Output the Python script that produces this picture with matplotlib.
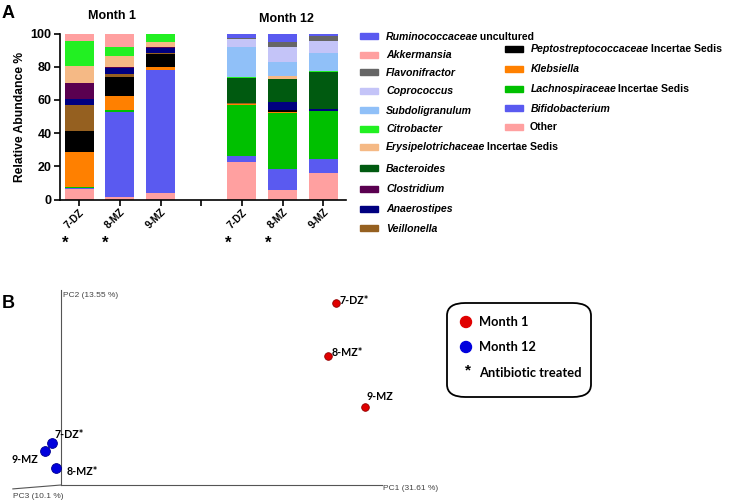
import numpy as np
import matplotlib
matplotlib.use("Agg")
import matplotlib.pyplot as plt
from matplotlib.patches import Rectangle, FancyBboxPatch, Ellipse

plt.rcParams['font.family'] = ['Liberation Sans', 'DejaVu Sans']

W, H = 732, 501

# ---- panel A data: relative abundance (%), stacked bottom -> top ----
samples = ["7-DZ", "8-MZ", "9-MZ", "7-DZ", "8-MZ", "9-MZ"]
positions = [0, 1, 2, 4, 5, 6]
treated = [True, True, False, True, True, False]

other = [6.5, 1.6, 4.2, 22.4, 5.9, 16.0]
bifidobacterium = [0.6, 51.2, 73.7, 3.6, 12.7, 8.6]
lachnospiraceae = [0.6, 1.4, 0.3, 31.0, 33.5, 28.9]
klebsiella = [21.0, 8.0, 1.5, 0.3, 0.7, 0.0]
peptostrep = [12.7, 11.7, 8.0, 0.0, 1.2, 0.0]
veillonella = [15.4, 2.0, 0.5, 0.6, 0.0, 0.0]
anaerostipes = [4.0, 3.4, 3.0, 0.0, 5.0, 0.8]
clostridium = [9.5, 0.5, 0.5, 0.0, 0.0, 0.0]
bacteroides = [0.0, 0.0, 0.0, 15.0, 13.7, 22.3]
erysipelotrichaceae = [10.0, 6.5, 3.0, 0.0, 1.4, 0.0]
citrobacter = [15.0, 5.3, 5.3, 0.8, 0.0, 0.8]
subdoligranulum = [0.0, 0.0, 0.0, 18.2, 8.6, 11.0]
coprococcus = [0.0, 0.0, 0.0, 4.8, 9.0, 6.8]
flavonifractor = [0.0, 0.0, 0.0, 0.5, 3.0, 3.2]
akkermansia = [4.7, 8.4, 0.0, 0.0, 0.0, 0.0]
ruminococcaceae = [0.0, 0.0, 0.0, 2.8, 5.3, 1.6]

# (values, colour) in stacking order
stack = [
    (other, "#ffa0a0"),
    (bifidobacterium, "#5a5af0"),
    (lachnospiraceae, "#00c000"),
    (klebsiella, "#ff8000"),
    (peptostrep, "#000000"),
    (veillonella, "#956020"),
    (anaerostipes, "#000080"),
    (clostridium, "#5a0050"),
    (bacteroides, "#005a10"),
    (erysipelotrichaceae, "#f5b985"),
    (citrobacter, "#22f022"),
    (subdoligranulum, "#90c0f8"),
    (coprococcus, "#c4c4f8"),
    (flavonifractor, "#666666"),
    (akkermansia, "#ffa0a0"),
    (ruminococcaceae, "#5a5af0"),
]

# legend entries: (italic part, plain part, colour)
legend_col1 = [
    ("Ruminococcaceae", " uncultured", "#5a5af0"),
    ("Akkermansia", "", "#ffa0a0"),
    ("Flavonifractor", "", "#666666"),
    ("Coprococcus", "", "#c4c4f8"),
    ("Subdoligranulum", "", "#90c0f8"),
    ("Citrobacter", "", "#22f022"),
    ("Erysipelotrichaceae", " Incertae Sedis", "#f5b985"),
    ("Bacteroides", "", "#005a10"),
    ("Clostridium", "", "#5a0050"),
    ("Anaerostipes", "", "#000080"),
    ("Veillonella", "", "#956020"),
]
legend_col2 = [
    ("Peptostreptococcaceae", " Incertae Sedis", "#000000"),
    ("Klebsiella", "", "#ff8000"),
    ("Lachnospiraceae", " Incertae Sedis", "#00c000"),
    ("Bifidobacterium", "", "#5a5af0"),
    ("", "Other", "#ffa0a0"),
]

# ---- panel B data: PCoA positions projected on the PC1/PC2 plane ----
pc_labels = ["7-DZ*", "8-MZ*", "9-MZ"]
m1_x = [0.856, 0.831, 0.946]
m1_y = [0.933, 0.662, 0.402]
m12_x = [-0.027, -0.017, -0.051]
m12_y = [0.217, 0.089, 0.174]


def fx(px):
    return px / W


def fy(py):
    return 1 - py / H


fig = plt.figure(figsize=(W / 100, H / 100), dpi=100)

# ================= panel A =================
x_left = -0.47
x_right = 6.55
ax = fig.add_axes([fx(60), fy(199.5), (x_right - x_left) * 40.7 / W, 166 / H])
bottom = np.zeros(len(samples))
for vals, col in stack:
    vals = np.array(vals)
    ax.bar(positions, vals, width=0.71, bottom=bottom, color=col, linewidth=0)
    bottom += vals

ax.set_xlim(x_left, x_right)
ax.set_ylim(0, 100)
ax.spines['top'].set_visible(False)
ax.spines['right'].set_visible(False)
for s in ['left', 'bottom']:
    ax.spines[s].set_linewidth(1.2)
ax.set_yticks([0, 20, 40, 60, 80, 100])
ax.set_xticks([0, 1, 2, 3, 4, 5, 6])
ax.set_xticklabels(samples[:3] + [""] + samples[3:], rotation=45, ha='right',
                   rotation_mode='anchor', fontsize=7.3, fontweight='bold')
ax.tick_params(axis='y', labelsize=9, width=1.2, length=4, pad=2)
ax.tick_params(axis='x', width=1.2, length=4, pad=1.5)
for lab in ax.get_yticklabels():
    lab.set_fontweight('bold')
ax.set_ylabel("Relative Abundance %", fontsize=8.7, fontweight='bold', labelpad=3)

trans = ax.get_xaxis_transform()
for p, t in zip(positions, treated):
    if t:
        ax.text(p - 0.35, -0.265, "*", transform=trans, ha='center', va='center',
                fontsize=12, fontweight='bold')
ax.text(0.81, 1.105, "Month 1", transform=trans, ha='center', va='center',
        fontsize=9, fontweight='bold')
ax.text(5.1, 1.09, "Month 12", transform=trans, ha='center', va='center',
        fontsize=9, fontweight='bold')

fig.text(fx(2), fy(13), "A", fontsize=13, fontweight='bold', va='center')


def legend_column(entries, x0, ys):
    for (ital, plain, col), y in zip(entries, ys):
        fig.patches.append(Rectangle((fx(x0), fy(y + 3)), 18 / W, 6 / H,
                                     transform=fig.transFigure, color=col, figure=fig))
        t = fig.text(fx(x0 + 26), fy(y + 3.5), ital, fontsize=7.6, fontweight='bold',
                     style='italic', va='baseline', ha='left')
        if plain:
            ax.annotate(plain, xy=(1, fy(y + 3.5)), xycoords=(t, 'figure fraction'),
                        xytext=(-1.5, 0), textcoords='offset pixels',
                        fontsize=7.6, fontweight='bold', va='baseline', ha='left',
                        annotation_clip=False)


legend_column(legend_col1, 360, [36, 55, 72, 91, 110, 129, 147, 168, 189, 209, 228])
legend_column(legend_col2, 505, [49, 69, 89, 108, 127])

# ================= panel B =================
axb = fig.add_axes([fx(61), fy(485), (382 - 61) / W, (485 - 290) / H])
axb.set_xlim(0, 1)
axb.set_ylim(0, 1)
axb.axis('off')
line_kw = dict(color='#555555', lw=0.8, clip_on=False)
axb.plot([0, 1], [0, 0], **line_kw)
axb.plot([0, 0], [0, 1], **line_kw)
axb.plot([0, -0.15], [0, -0.02], **line_kw)
axis_kw = dict(fontsize=6, color='#444444', clip_on=False)
axb.text(0.005, 0.97, "PC2 (13.55 %)", va='center', ha='left', **axis_kw)
axb.text(1.003, -0.02, "PC1 (31.61 %)", va='center', ha='left', **axis_kw)
axb.text(-0.15, -0.06, "PC3 (10.1 %)", va='center', ha='left', **axis_kw)

axb.scatter(m1_x, m1_y, s=30, color='#e00000', edgecolor='#900000', lw=0.6,
            clip_on=False, zorder=3)
axb.scatter(m12_x, m12_y, s=50, color='#0000dd', edgecolor='#000090', lw=0.6,
            clip_on=False, zorder=3)

lab_kw = dict(fontsize=7.7, fontweight='bold', family=['Lato', 'DejaVu Sans'],
              textcoords='offset pixels', annotation_clip=False)
m1_off = [(4, 3, 'left'), (4, 3, 'left'), (2, 10, 'left')]
m12_off = [(2, 8, 'left'), (11, -4, 'left'), (-6, -8, 'right')]
for lab, x, y, (dx, dy, ha) in zip(pc_labels, m1_x, m1_y, m1_off):
    axb.annotate(lab, (x, y), xytext=(dx, dy), ha=ha, va='center', **lab_kw)
for lab, x, y, (dx, dy, ha) in zip(pc_labels, m12_x, m12_y, m12_off):
    axb.annotate(lab, (x, y), xytext=(dx, dy), ha=ha, va='center', **lab_kw)

fig.text(fx(2), fy(303), "B", fontsize=13, fontweight='bold', va='center')

# legend box for panel B
fig.patches.append(FancyBboxPatch((fx(447), fy(397)), (591 - 447) / W, (397 - 303) / H,
                                  boxstyle="round,pad=0,rounding_size=0.025",
                                  transform=fig.transFigure, fc='white', ec='black',
                                  lw=1.3, figure=fig))
leg_b = [("Month 1", '#e00000'), ("Month 12", '#0000dd')]
for i, (lab, col) in enumerate(leg_b):
    y = 322 + 25 * i
    fig.patches.append(Ellipse((fx(466), fy(y)), 11 / W, 11 / H,
                               transform=fig.transFigure, color=col, figure=fig))
    fig.text(fx(479), fy(y), lab, fontsize=9.3, fontweight='bold',
             family=['Lato', 'DejaVu Sans'], va='center')
fig.text(fx(468), fy(370), "*", fontsize=11, fontweight='bold', ha='center', va='center')
fig.text(fx(479), fy(373), "Antibiotic treated", fontsize=9.3, fontweight='bold',
         family=['Lato', 'DejaVu Sans'], va='center')

fig.savefig("out.png", dpi=100)
